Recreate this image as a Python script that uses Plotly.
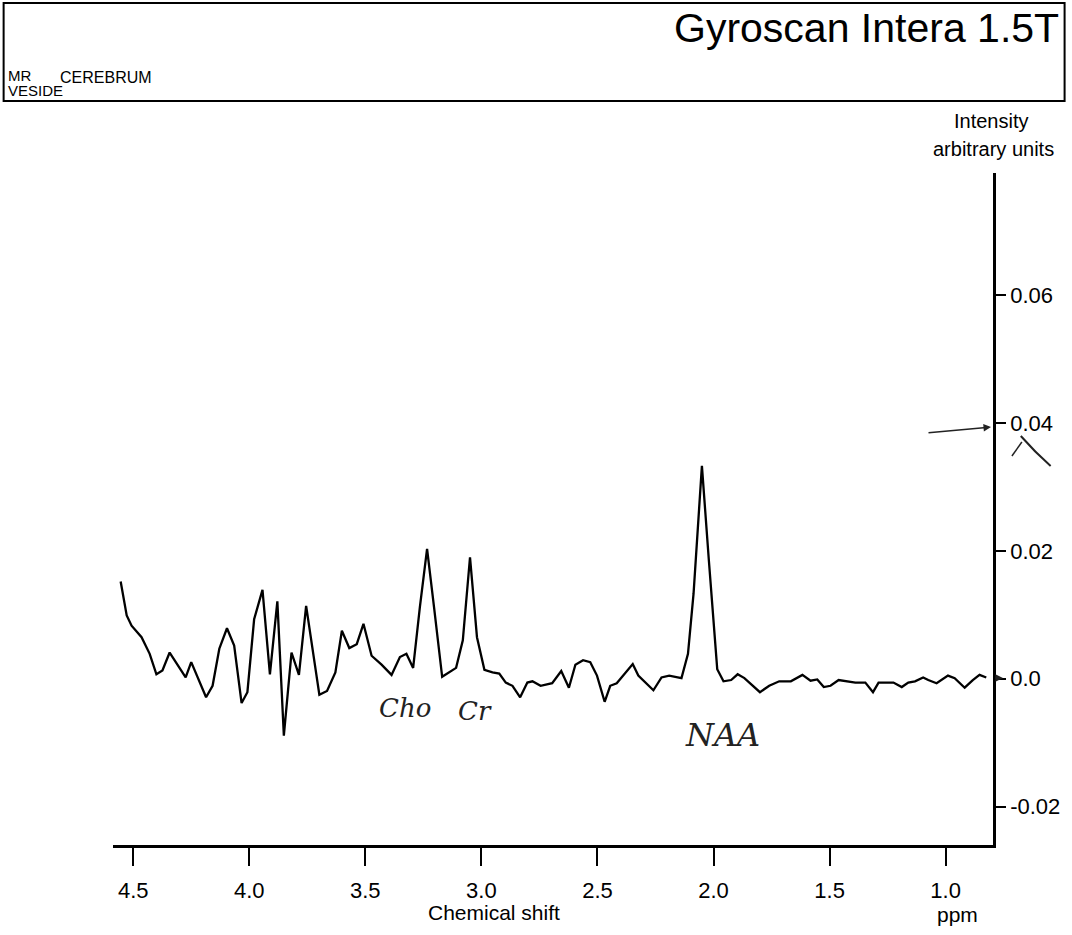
import plotly.graph_objects as go

# ---- data ----
ppm = [4.554, 4.528, 4.507, 4.464, 4.429, 4.400, 4.374, 4.343, 4.274, 4.250,
       4.186, 4.158, 4.129, 4.096, 4.065, 4.033, 4.008, 3.979, 3.943, 3.911,
       3.879, 3.851, 3.818, 3.786, 3.755, 3.698, 3.665, 3.629, 3.601, 3.569,
       3.537, 3.508, 3.473, 3.430, 3.387, 3.351, 3.323, 3.294, 3.265, 3.234,
       3.204, 3.169, 3.109, 3.080, 3.049, 3.019, 2.987, 2.952, 2.923, 2.895,
       2.866, 2.833, 2.802, 2.780, 2.745, 2.716, 2.695, 2.656, 2.623, 2.595,
       2.562, 2.531, 2.502, 2.469, 2.445, 2.417, 2.348, 2.324, 2.259, 2.224,
       2.191, 2.138, 2.110, 2.086, 2.050, 2.020, 1.996, 1.984, 1.957, 1.924,
       1.896, 1.867, 1.800, 1.760, 1.717, 1.667, 1.617, 1.582, 1.553, 1.525,
       1.496, 1.461, 1.389, 1.346, 1.313, 1.289, 1.225, 1.189, 1.161, 1.132,
       1.097, 1.075, 1.039, 0.990, 0.961, 0.918, 0.883, 0.854, 0.825]
intensity = [0.0152, 0.0099, 0.0083, 0.0065, 0.0039, 0.0007, 0.0013, 0.0041, 0.0002, 0.0026,
             -0.0029, -0.0011, 0.0047, 0.0079, 0.0052, -0.0038, -0.0021, 0.0093, 0.0139, 0.0007,
             0.0121, -0.0089, 0.0041, 0.0006, 0.0114, -0.0025, -0.0019, 0.0010, 0.0075, 0.0048,
             0.0054, 0.0086, 0.0036, 0.0022, 0.0006, 0.0034, 0.0039, 0.0017, 0.0112, 0.0203,
             0.0112, 0.0003, 0.0017, 0.0060, 0.0190, 0.0065, 0.0014, 0.0010, 0.0008, -0.0006,
             -0.0011, -0.0029, -0.0006, -0.0004, -0.0011, -0.0009, -0.0007, 0.0012, -0.0014, 0.0022,
             0.0029, 0.0026, 0.0005, -0.0036, -0.0011, -0.0007, 0.0023, 0.0005, -0.0018, 0.0002,
             0.0005, 0.0001, 0.0039, 0.0133, 0.0333, 0.0185, 0.0065, 0.0015, -0.0004, -0.0002,
             0.0007, 0.0001, -0.0021, -0.0011, -0.0004, -0.0004, 0.0006, -0.0003, -0.0001, -0.0013,
             -0.0011, -0.0002, -0.0006, -0.0006, -0.0021, -0.0006, -0.0006, -0.0013, -0.0006, -0.0004,
             0.0002, -0.0002, -0.0007, 0.0005, 0.0001, -0.0014, -0.0002, 0.0006, 0.0002]

x_ticks = [4.5, 4.0, 3.5, 3.0, 2.5, 2.0, 1.5, 1.0]
x_ticklabels = ["4.5", "4.0", "3.5", "3.0", "2.5", "2.0", "1.5", "1.0"]
y_ticks = [-0.02, 0.0, 0.02, 0.04, 0.06]
y_ticklabels = ["-0.02", "0.0", "0.02", "0.04", "0.06"]

# ---- layout geometry (pixels) ----
W_FIG, H_FIG = 1072, 935
L, R, T, B = 113, 998, 173, 845
PW, PH = R - L, B - T


def px(x):
    return (x - L) / PW


def py(y):
    return (B - y) / PH


FONT = "Liberation Sans Narrow, Liberation Sans, Arial, sans-serif"

fig = go.Figure()
fig.add_trace(go.Scatter(x=ppm, y=intensity, mode="lines",
                         line=dict(color="black", width=2.3), hoverinfo="skip"))

fig.update_layout(
    width=W_FIG, height=H_FIG,
    margin=dict(l=L, r=W_FIG - R, t=T, b=H_FIG - B, pad=0),
    paper_bgcolor="white", plot_bgcolor="white",
    showlegend=False,
    font=dict(family=FONT, color="black", size=18),
    xaxis=dict(range=[4.587, 0.796], showgrid=False, zeroline=False,
               showline=True, linecolor="black", linewidth=3,
               ticks="outside", ticklen=18, tickwidth=2, tickcolor="black",
               ticklabelstandoff=6,
               tickvals=x_ticks, ticktext=x_ticklabels,
               tickfont=dict(size=22, family=FONT)),
    yaxis=dict(range=[-0.026, 0.0791], side="right", showgrid=False, zeroline=False,
               showline=True, linecolor="black", linewidth=2.5,
               ticks="outside", ticklen=10, tickwidth=2, tickcolor="black",
               tickvals=y_ticks, ticktext=y_ticklabels,
               tickfont=dict(size=22, family=FONT)),
)

# header box
fig.add_shape(type="rect", xref="paper", yref="paper",
              x0=px(3), x1=px(1070), y0=py(101), y1=py(3),
              line=dict(color="black", width=2))

# handwritten scribble to the right of the 0.04 label
fig.add_shape(type="path", xref="paper", yref="paper",
              path="M {:.4f},{:.4f} Q {:.4f},{:.4f} {:.4f},{:.4f}".format(
                  px(1026), py(436), px(1040), py(452), px(1056), py(466)),
              line=dict(color="#222", width=2))
fig.add_shape(type="path", xref="paper", yref="paper",
              path="M {:.4f},{:.4f} L {:.4f},{:.4f}".format(
                  px(1027), py(442), px(1017), py(456)),
              line=dict(color="#222", width=1.5))

ann = []
ann.append(dict(text="Gyroscan Intera 1.5T", x=px(1066), y=py(28), xanchor="right", yanchor="middle",
                font=dict(size=41, family=FONT)))
ann.append(dict(text="MR", x=px(5), y=py(75), xanchor="left", yanchor="middle",
                font=dict(size=15, family=FONT)))
ann.append(dict(text="CEREBRUM", x=px(58), y=py(77), xanchor="left", yanchor="middle",
                font=dict(size=16, family=FONT)))
ann.append(dict(text="VESIDE", x=px(5), y=py(90), xanchor="left", yanchor="middle",
                font=dict(size=15, family=FONT)))
ann.append(dict(text="Intensity", x=px(996), y=py(121), xanchor="center", yanchor="middle",
                font=dict(size=20, family=FONT)))
ann.append(dict(text="arbitrary units", x=px(998), y=py(149), xanchor="center", yanchor="middle",
                font=dict(size=20, family=FONT)))
ann.append(dict(text="Chemical shift", x=px(496), y=py(912), xanchor="center", yanchor="middle",
                font=dict(size=21, family=FONT)))
ann.append(dict(text="ppm", x=px(962), y=py(914), xanchor="center", yanchor="middle",
                font=dict(size=21, family=FONT)))
# handwritten notes
HAND = "DejaVu Serif, serif"
ann.append(dict(text="<i>Cho</i>", x=px(407), y=py(708), xanchor="center", yanchor="middle",
                font=dict(size=26, family=HAND, color="#222")))
ann.append(dict(text="<i>Cr</i>", x=px(477), y=py(711), xanchor="center", yanchor="middle",
                font=dict(size=26, family=HAND, color="#222")))
ann.append(dict(text="<i>NAA</i>", x=px(726), y=py(735), xanchor="center", yanchor="middle",
                font=dict(size=32, family=HAND, color="#222")))
for a in ann:
    a.update(xref="paper", yref="paper", showarrow=False)
    fig.add_annotation(**a)

# handwritten arrows near the intensity axis
fig.add_annotation(xref="paper", yref="paper", x=px(996), y=py(427), ax=-64, ay=6,
                   axref="pixel", ayref="pixel", showarrow=True, arrowhead=2, arrowsize=1,
                   arrowwidth=1.5, arrowcolor="#222", text="")
fig.add_annotation(xref="paper", yref="paper", x=px(1008), y=py(678), ax=-9, ay=0,
                   axref="pixel", ayref="pixel", showarrow=True, arrowhead=2, arrowsize=1,
                   arrowwidth=1.5, arrowcolor="#222", text="")

fig.write_html("out.html")
